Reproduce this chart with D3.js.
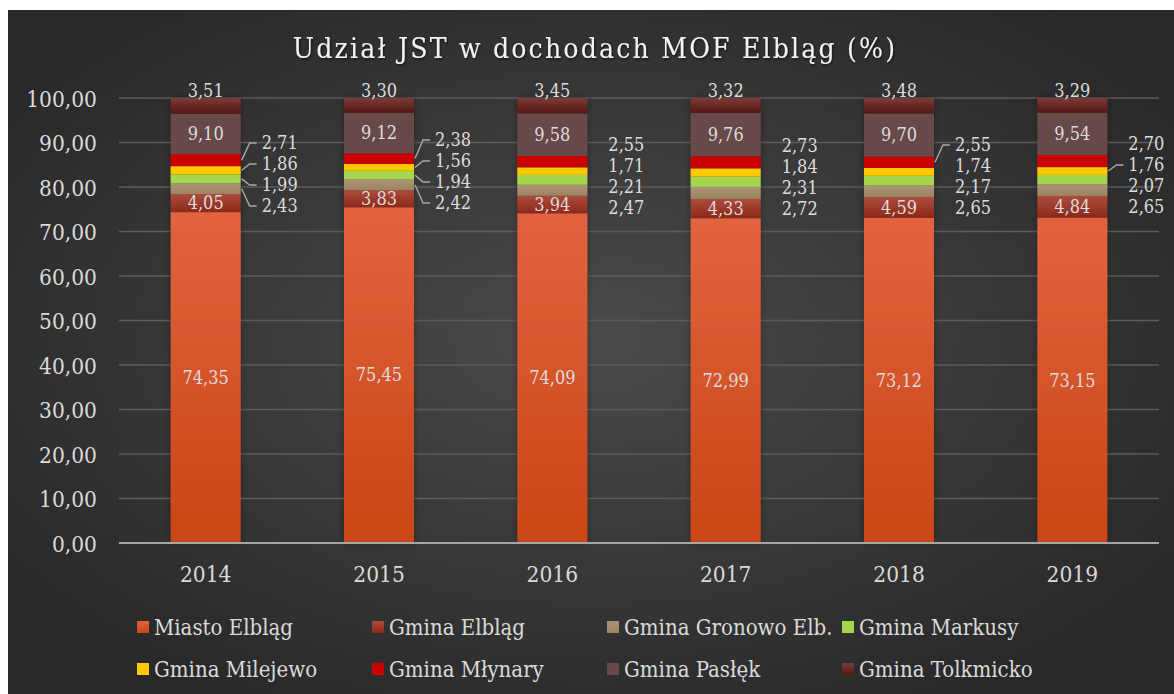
<!DOCTYPE html>
<html>
<head>
<meta charset="utf-8">
<script src="https://cdn.jsdelivr.net/npm/d3@7"></script>
<style>
  body { margin: 0; background: #fff; }
  svg text { font-family: "DejaVu Serif", serif; font-stretch: condensed; }
</style>
</head>
<body>
<div id="chart"></div>
<script>
// Udział JST w dochodach MOF Elbląg (%)
const years = ["2014", "2015", "2016", "2017", "2018", "2019"];
const series = ["Miasto Elbląg", "Gmina Elbląg", "Gmina Gronowo Elb.", "Gmina Markusy",
                "Gmina Milejewo", "Gmina Młynary", "Gmina Pasłęk", "Gmina Tolkmicko"];

const miastoElblag = [74.35, 75.45, 74.09, 72.99, 73.12, 73.15];
const gminaElblag  = [4.05, 3.83, 3.94, 4.33, 4.59, 4.84];
const gronowo      = [2.43, 2.42, 2.47, 2.72, 2.65, 2.65];
const markusy      = [1.99, 1.94, 2.21, 2.31, 2.17, 2.07];
const milejewo     = [1.86, 1.56, 1.71, 1.84, 1.74, 1.76];
const mlynary      = [2.71, 2.38, 2.55, 2.73, 2.55, 2.70];
const paslek       = [9.10, 9.12, 9.58, 9.76, 9.70, 9.54];
const tolkmicko    = [3.51, 3.30, 3.45, 3.32, 3.48, 3.29];

const yTicks = [0, 10, 20, 30, 40, 50, 60, 70, 80, 90, 100];

// labels that Excel drew with leader lines
const leaders = ["2014|*", "2015|*", "2018|Gmina Młynary", "2019|Gmina Milejewo"];

const values = [miastoElblag, gminaElblag, gronowo, markusy, milejewo, mlynary, paslek, tolkmicko];
const table = years.map((y, i) => {
    const row = { year: y };
    series.forEach((s, k) => row[s] = values[k][i]);
    return row;
});

// top / bottom colours of each gradient fill
const colors = {
    "Miasto Elbląg":      ["#e2633f", "#c94515"],
    "Gmina Elbląg":       ["#ad4c3e", "#8c2819"],
    "Gmina Gronowo Elb.": ["#ab9576", "#9c845f"],
    "Gmina Markusy":      ["#a6d64e", "#a6d64e"],
    "Gmina Milejewo":     ["#ffc800", "#ffc800"],
    "Gmina Młynary":      ["#cc0000", "#c80000"],
    "Gmina Pasłęk":       ["#694a4a", "#664848"],
    "Gmina Tolkmicko":    ["#7b3c38", "#561712"]
};
const outside = ["Gmina Młynary", "Gmina Milejewo", "Gmina Markusy", "Gmina Gronowo Elb."];

const width = 1174, height = 694;
const svg = d3.select("#chart").append("svg")
    .attr("width", width).attr("height", height);
const defs = svg.append("defs");

const bg = defs.append("radialGradient").attr("id", "bg")
    .attr("cx", "50%").attr("cy", "48%").attr("r", "62%");
bg.append("stop").attr("offset", "0%").attr("stop-color", "#4a4a4a");
bg.append("stop").attr("offset", "100%").attr("stop-color", "#282828");

series.forEach((s, k) => {
    const g = defs.append("linearGradient").attr("id", "g" + k)
        .attr("x1", 0).attr("y1", 0).attr("x2", 0).attr("y2", 1);
    g.append("stop").attr("offset", "0%").attr("stop-color", colors[s][0]);
    g.append("stop").attr("offset", "100%").attr("stop-color", colors[s][1]);
});

const shadow = defs.append("filter").attr("id", "shadow")
    .attr("x", "-20%").attr("y", "-5%").attr("width", "140%").attr("height", "110%");
shadow.append("feDropShadow").attr("dx", 0).attr("dy", 0).attr("stdDeviation", 3)
    .attr("flood-color", "#000").attr("flood-opacity", 0.35);

const tshadow = defs.append("filter").attr("id", "tshadow");
tshadow.append("feDropShadow").attr("dx", 1).attr("dy", 1.5).attr("stdDeviation", 1)
    .attr("flood-color", "#000").attr("flood-opacity", 0.6);

svg.append("rect").attr("x", 8).attr("y", 10)
    .attr("width", width - 8).attr("height", height - 10)
    .attr("fill", "url(#bg)");

svg.append("text")
    .attr("x", 595).attr("y", 58)
    .attr("text-anchor", "middle")
    .attr("fill", "#f2f2f2")
    .attr("font-size", 28)
    .attr("letter-spacing", 2.2)
    .attr("filter", "url(#tshadow)")
    .text("Udział JST w dochodach MOF Elbląg (%)");

const x = d3.scaleBand().domain(years).range([119, 1159])
    .paddingInner(0.596).paddingOuter(0.298);
const y = d3.scaleLinear().domain([0, 100]).range([543, 98]);

// gridlines
svg.append("g")
    .selectAll("line").data(yTicks.filter(d => d > 0)).join("line")
    .attr("x1", 119).attr("x2", 1159)
    .attr("y1", d => y(d)).attr("y2", d => y(d))
    .attr("stroke", "#5b5b5b").attr("stroke-width", 1.3);

// y axis labels
const yAxis = svg.append("g")
    .attr("transform", "translate(97,0)")
    .call(d3.axisLeft(y).tickValues(yTicks).tickSize(0).tickPadding(0)
        .tickFormat(d => d3.format(".2f")(d).replace(".", ",")));
yAxis.select(".domain").remove();
yAxis.selectAll("text").attr("fill", "#dadada").attr("font-size", 22.5)
    .attr("dy", "0.36em");

const stacked = d3.stack().keys(series)(table);

const bars = svg.append("g").attr("filter", "url(#shadow)");
stacked.forEach((layer, k) => {
    bars.append("g").selectAll("rect").data(layer).join("rect")
        .attr("x", d => x(d.data.year))
        .attr("width", x.bandwidth())
        .attr("y", d => y(d[1]))
        .attr("height", d => y(d[0]) - y(d[1]))
        .attr("fill", "url(#g" + k + ")");
});

// x axis
svg.append("line")
    .attr("x1", 119).attr("x2", 1159).attr("y1", y(0)).attr("y2", y(0))
    .attr("stroke", "#a5a5a5").attr("stroke-width", 2);

const xAxis = svg.append("g")
    .attr("transform", `translate(0,${y(0)})`)
    .call(d3.axisBottom(x).tickSize(0).tickPadding(0));
xAxis.select(".domain").remove();
xAxis.selectAll("text").attr("fill", "#dadada").attr("font-size", 22.5)
    .attr("dy", "1.72em");

// data labels
const fmt = v => d3.format(".2f")(v).replace(".", ",");
const labels = svg.append("g").attr("fill", "#dcdcdc").attr("font-size", 18);
const leaderG = svg.append("g").attr("fill", "none")
    .attr("stroke", "#a8a8a8").attr("stroke-width", 1.4);

stacked.forEach(layer => {
    const s = layer.key;
    if (outside.includes(s)) return;
    layer.forEach(d => {
        const cx = x(d.data.year) + x.bandwidth() / 2;
        const cy = s === "Gmina Tolkmicko" ? y(d[1]) - 7 : y((d[0] + d[1]) / 2);
        labels.append("text")
            .attr("x", cx).attr("y", cy)
            .attr("text-anchor", "middle").attr("dy", "0.35em")
            .text(fmt(d[1] - d[0]));
    });
});

// outside labels: spread around the mean of their segment centres
years.forEach((yr, i) => {
    const segs = outside.map(s => {
        const d = stacked[series.indexOf(s)][i];
        return { s, v: d[1] - d[0], mid: y((d[0] + d[1]) / 2) };
    });
    const mean = d3.mean(segs, d => d.mid);
    const gap = 21;
    const right = x(yr) + x.bandwidth();
    const lx = right + 21;
    segs.forEach((d, k) => {
        const ly = mean + (k - 1.5) * gap;
        labels.append("text")
            .attr("x", lx).attr("y", ly).attr("dy", "0.35em")
            .text(fmt(d.v));
        if (leaders.includes(yr + "|*") || leaders.includes(yr + "|" + d.s)) {
            leaderG.append("path")
                .attr("d", `M${lx - 5},${ly} H${right + 9} L${right + 1},${d.mid}`);
        }
    });
});

// legend
const legend = svg.append("g");
series.forEach((s, k) => {
    const col = k % 4, row = Math.floor(k / 4);
    const gx = 137 + col * 235, gy = 627 + row * 42;
    legend.append("rect")
        .attr("x", gx).attr("y", gy - 6).attr("width", 12).attr("height", 12)
        .attr("fill", "url(#g" + k + ")");
    legend.append("text")
        .attr("x", gx + 17).attr("y", gy).attr("dy", "0.35em")
        .attr("fill", "#dadada").attr("font-size", 22)
        .text(s);
});
</script>
</body>
</html>
